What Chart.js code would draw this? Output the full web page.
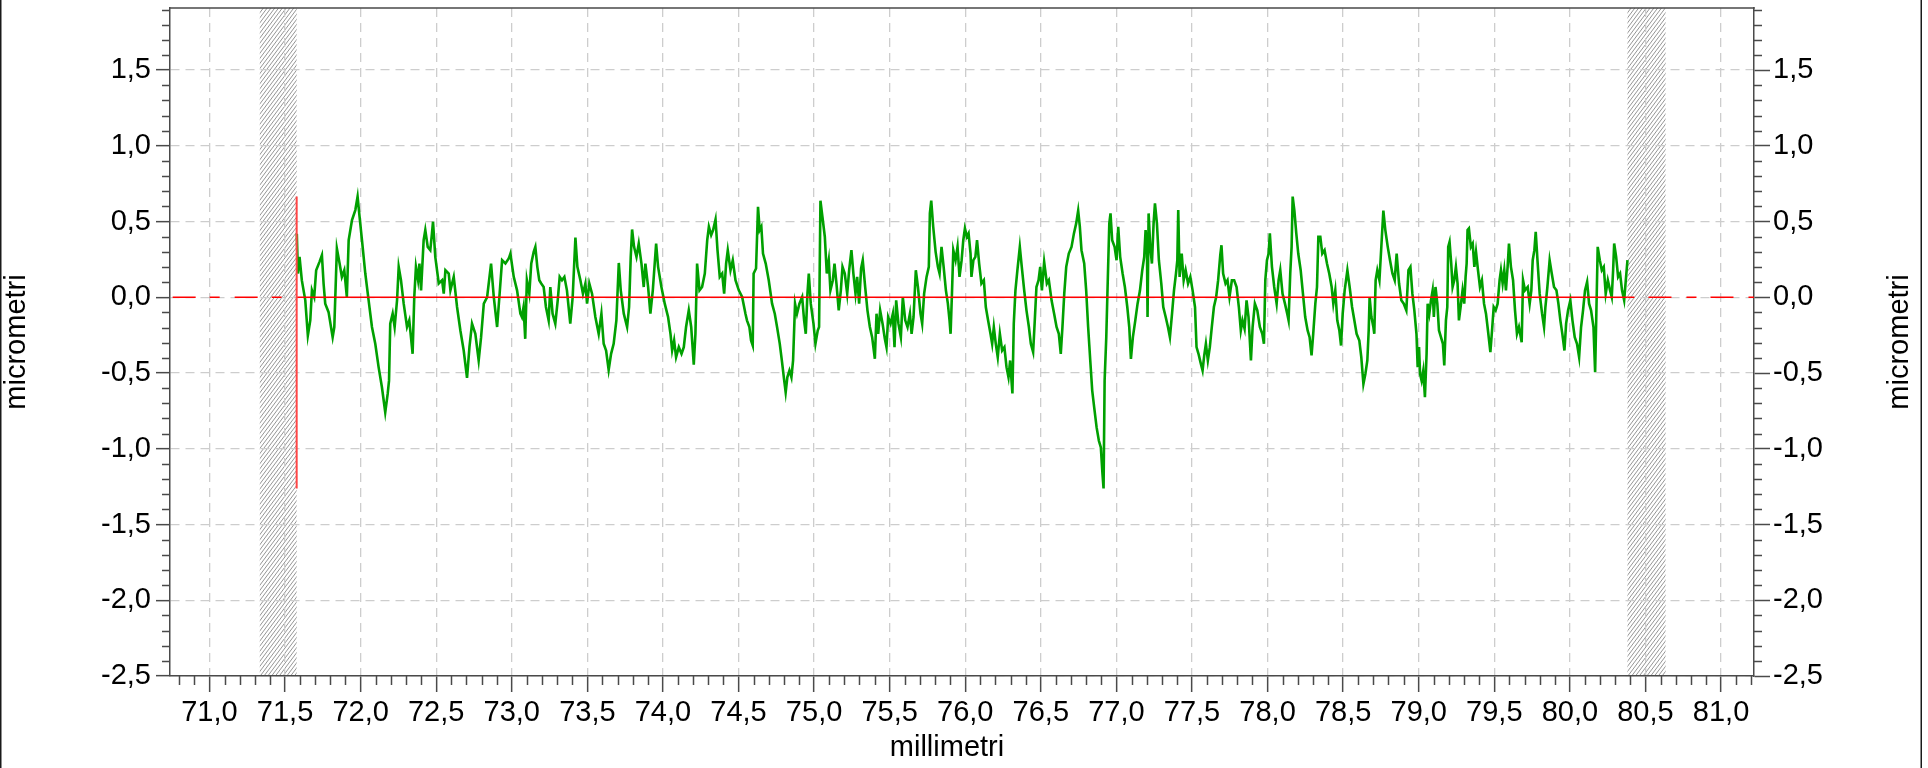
<!DOCTYPE html>
<html>
<head>
<meta charset="utf-8">
<title>Profilo rugosità</title>
<script src="https://cdn.jsdelivr.net/npm/chart.js@4.4.1/dist/chart.umd.min.js"></script>
<style>
  html, body { margin: 0; padding: 0; background: #fff; }
  #wrap { width: 1928px; height: 768px; }
</style>
</head>
<body>
<div id="wrap"><canvas id="profileChart" width="1928" height="768"></canvas></div>
<script>
"use strict";

/* ── Assi: limiti e tacche principali ── */
const xRange = [70.739, 81.218];
const yRange = [-2.5, 1.91];
const xTickValues = [71.0, 71.5, 72.0, 72.5, 73.0, 73.5, 74.0, 74.5, 75.0, 75.5,
  76.0, 76.5, 77.0, 77.5, 78.0, 78.5, 79.0, 79.5, 80.0, 80.5, 81.0];
const yTickValues = [-2.5, -2.0, -1.5, -1.0, -0.5, 0.0, 0.5, 1.0, 1.5];

/* ── Zone escluse (tratteggiate) e tratto di valutazione ── */
const cutoffBands = [[71.333, 71.577], [80.381, 80.633]];
const evalStart = 71.577;
const evalEnd = 80.381;
const meanLevel = 0.0;
const peakUm = 0.665;
const valleyUm = -1.262;

/* ── Profilo misurato: posizione (mm) e quota (µm) ── */
const posMm = [
  71.578,71.585,71.596,71.611,71.634,71.651,71.667,71.678,71.693,71.706,
  71.728,71.744,71.755,71.766,71.788,71.815,71.826,71.834,71.843,71.861,
  71.876,71.892,71.909,71.921,71.943,71.965,71.980,71.993,72.009,72.031,
  72.053,72.075,72.097,72.119,72.141,72.163,72.179,72.188,72.196,72.212,
  72.225,72.241,72.252,72.267,72.285,72.307,72.322,72.344,72.355,72.366,
  72.380,72.389,72.400,72.417,72.428,72.444,72.461,72.472,72.479,72.494,
  72.517,72.539,72.550,72.561,72.583,72.594,72.616,72.638,72.660,72.682,
  72.704,72.720,72.737,72.759,72.781,72.797,72.815,72.837,72.863,72.881,
  72.903,72.918,72.936,72.958,72.980,72.991,73.013,73.035,73.057,
  73.067,73.078,73.089,73.100,73.116,73.129,73.145,73.156,73.169,73.182,
  73.195,73.211,73.226,73.244,73.255,73.270,73.288,73.304,73.317,73.332,
  73.348,73.365,73.376,73.387,73.403,73.421,73.434,73.454,73.471,73.487,
  73.498,73.513,73.531,73.553,73.575,73.593,73.608,73.624,73.641,73.657,
  73.674,73.692,73.708,73.721,73.741,73.763,73.776,73.787,73.796,73.809,
  73.825,73.840,73.858,73.873,73.884,73.902,73.917,73.933,73.955,73.968,
  73.990,74.012,74.034,74.050,74.061,74.074,74.087,74.105,74.123,74.138,
  74.153,74.171,74.187,74.204,74.215,74.226,74.242,74.259,74.277,74.293,
  74.304,74.319,74.332,74.348,74.361,74.376,74.392,74.405,74.418,74.429,
  74.447,74.462,74.480,74.502,74.524,74.546,
  74.556,74.572,74.583,74.594,74.600,74.616,74.629,74.640,74.651,74.662,
  74.680,74.700,74.722,74.740,74.755,74.773,74.788,74.801,74.812,74.823,
  74.837,74.850,74.861,74.874,74.887,74.903,74.921,74.934,74.945,74.956,
  74.965,74.978,74.996,75.009,75.024,75.033,75.042,75.055,75.071,75.084,
  75.097,75.108,75.124,75.135,75.148,75.163,75.177,75.188,75.203,75.219,
  75.232,75.247,75.260,75.274,75.285,75.298,75.311,75.322,75.338,75.353,
  75.369,75.384,75.402,75.413,75.424,75.437,75.453,75.468,75.479,75.490,
  75.506,75.521,75.532,75.543,75.558,75.574,75.587,75.603,75.618,75.634,
  75.645,75.658,75.673,75.687,75.704,75.715,75.728,75.744,75.759,75.766,
  75.775,75.788,75.804,75.819,75.830,75.843,75.857,75.872,75.885,75.896,
  75.903,75.912,75.921,75.936,75.949,75.962,75.976,75.987,75.998,76.011,
  76.022,76.035,
  76.041,76.054,76.067,76.078,76.092,76.107,76.123,76.136,76.151,76.167,
  76.178,76.189,76.202,76.215,76.229,76.244,76.259,76.273,76.286,76.297,
  76.306,76.312,76.321,76.332,76.345,76.361,76.374,76.390,76.405,76.421,
  76.434,76.449,76.460,76.471,76.485,76.496,76.507,76.522,76.540,76.553,
  76.571,76.588,76.604,76.619,76.632,76.643,76.655,76.668,76.685,76.703,
  76.719,76.734,76.747,76.758,76.769,76.787,76.800,76.813,76.827,76.840,
  76.853,76.869,76.884,76.897,76.908,76.915,76.922,76.933,76.944,76.953,
  76.961,76.972,76.988,77.001,77.012,77.025,77.041,77.056,77.072,77.085,
  77.096,77.109,77.125,77.140,77.156,77.171,77.184,77.193,77.202,77.206,
  77.213,77.224,77.235,77.246,77.255,77.268,77.281,77.297,77.310,77.326,
  77.341,77.354,77.368,77.381,77.394,77.403,77.409,77.418,77.432,77.445,
  77.458,77.474,77.489,77.504,77.520,
  77.530,77.543,77.556,77.570,77.581,77.592,77.605,77.618,77.631,77.645,
  77.660,77.673,77.687,77.695,77.706,77.722,77.735,77.748,77.764,77.779,
  77.795,77.810,77.823,77.834,77.848,77.861,77.874,77.890,77.901,77.916,
  77.932,77.949,77.965,77.976,77.985,77.996,78.007,78.015,78.029,78.044,
  78.060,78.073,78.084,78.099,78.115,78.130,78.139,78.150,78.159,78.166,
  78.177,78.190,78.203,78.219,78.234,78.249,78.265,78.278,78.291,78.302,
  78.316,78.327,78.336,78.349,78.362,78.377,78.393,78.408,78.424,78.435,
  78.448,78.461,78.475,78.486,78.497,78.510,78.528,78.543,78.559,78.574,
  78.589,78.607,78.620,78.634,78.647,78.660,78.669,78.675,78.687,78.700,
  78.706,78.715,78.726,78.740,78.755,78.766,78.779,78.795,78.810,78.826,
  78.841,78.854,78.870,78.885,78.901,78.918,78.932,78.945,78.958,78.971,
  78.985,78.993,79.002,79.009,
  79.019,79.030,79.041,79.052,79.059,79.070,79.081,79.092,79.100,79.111,
  79.123,79.134,79.147,79.160,79.169,79.180,79.189,79.195,79.204,79.215,
  79.224,79.235,79.246,79.257,79.266,79.277,79.290,79.301,79.310,79.317,
  79.323,79.332,79.345,79.357,79.368,79.379,79.392,79.405,79.418,79.432,
  79.445,79.458,79.474,79.485,79.496,79.509,79.522,79.535,79.544,79.555,
  79.566,79.577,79.588,79.597,79.610,79.624,79.637,79.650,79.663,79.681,
  79.690,79.703,79.721,79.734,79.745,79.754,79.765,79.774,79.787,79.800,
  79.816,79.829,79.838,79.851,79.866,79.880,79.895,79.911,79.924,79.937,
  79.950,79.964,79.975,79.988,80.003,80.017,80.032,80.047,80.061,80.074,
  80.087,80.100,80.114,80.127,80.140,80.156,80.167,80.175,80.184,80.198,
  80.211,80.224,80.237,80.251,80.266,80.277,80.286,80.293,80.306,80.319,
  80.332,80.345,80.359,80.370,80.381
];
const heightUm = [
  0.42,0.157,0.267,0.113,-0.02,-0.252,-0.152,0.046,0.002,0.179,
  0.234,0.278,0.091,-0.042,-0.098,-0.263,-0.196,0.046,0.322,0.223,
  0.135,0.179,0.002,0.377,0.51,0.576,0.665,0.532,0.377,0.157,
  -0.02,-0.196,-0.307,-0.461,-0.594,-0.759,-0.638,-0.55,-0.174,-0.108,
  -0.196,-0.02,0.201,0.113,-0.042,-0.196,-0.152,-0.373,0.002,0.201,
  0.113,0.223,0.046,0.377,0.444,0.333,0.311,0.422,0.499,0.267,
  0.091,0.113,0.024,0.179,0.157,0.046,0.135,-0.064,-0.219,-0.351,
  -0.532,-0.329,-0.174,-0.241,-0.417,-0.263,-0.042,0.002,0.223,0.002,
  -0.196,0.002,0.245,0.223,0.256,0.289,0.135,0.046,-0.108,
  -0.13,-0.064,-0.274,0.113,0.024,0.223,0.3,0.333,0.201,0.113,
  0.091,0.068,-0.064,-0.152,0.068,-0.108,-0.174,-0.02,0.135,0.113,
  0.135,0.046,-0.064,-0.174,0.002,0.395,0.201,0.113,0.024,0.091,
  -0.042,0.091,0.024,-0.13,-0.241,-0.108,-0.307,-0.351,-0.479,-0.373,
  -0.307,-0.152,0.227,0.046,-0.108,-0.196,-0.064,0.267,0.448,0.333,
  0.267,0.355,0.223,0.068,0.223,0.068,-0.108,0.046,0.355,0.201,
  0.068,-0.042,-0.13,-0.241,-0.351,-0.285,-0.395,-0.329,-0.373,-0.329,
  -0.196,-0.086,-0.196,-0.444,-0.241,0.223,0.046,0.068,0.157,0.377,
  0.466,0.411,0.444,0.514,0.311,0.135,0.157,0.024,0.223,0.311,
  0.179,0.245,0.113,0.046,0.002,-0.108,
  -0.152,-0.196,-0.285,-0.318,0.157,0.19,0.598,0.444,0.466,0.289,
  0.223,0.113,-0.042,-0.108,-0.196,-0.307,-0.428,-0.539,-0.627,-0.528,
  -0.483,-0.528,-0.417,-0.042,-0.108,-0.042,0.002,-0.152,-0.241,0.024,
  0.157,-0.042,-0.174,-0.307,-0.219,-0.196,0.638,0.532,0.4,0.157,
  0.245,0.046,0.113,0.223,0.091,-0.086,0.046,0.201,0.157,0.024,
  0.179,0.311,0.157,0.024,0.135,-0.042,0.19,0.245,0.068,-0.086,
  -0.196,-0.263,-0.406,-0.108,-0.241,-0.086,-0.174,-0.274,-0.329,-0.13,
  -0.174,-0.108,-0.329,-0.02,-0.174,-0.263,0.002,-0.152,-0.196,-0.108,
  -0.241,-0.13,0.179,0.068,-0.108,-0.174,0.024,0.135,0.201,0.554,
  0.638,0.466,0.3,0.201,0.157,0.333,0.201,0.046,-0.042,-0.152,
  -0.241,0.024,0.311,0.245,0.333,0.135,0.245,0.377,0.455,0.4,
  0.422,0.289,
  0.135,0.245,0.267,0.377,0.223,0.091,0.113,-0.064,-0.152,-0.241,
  -0.307,-0.196,-0.307,-0.395,-0.241,-0.351,-0.329,-0.461,-0.528,-0.417,
  -0.55,-0.634,-0.174,0.046,0.179,0.333,0.201,0.046,-0.086,-0.196,
  -0.307,-0.362,-0.152,0.068,0.113,0.201,0.046,0.234,0.091,0.113,
  -0.02,-0.108,-0.196,-0.241,-0.373,-0.196,0.024,0.201,0.289,0.333,
  0.422,0.488,0.572,0.466,0.311,0.223,0.046,-0.196,-0.417,-0.616,
  -0.726,-0.859,-0.947,-0.991,-1.168,-1.262,-0.55,-0.263,0.157,0.488,
  0.554,0.377,0.333,0.245,0.466,0.267,0.157,0.068,-0.064,-0.196,
  -0.406,-0.263,-0.152,-0.042,0.046,0.179,0.267,0.444,0.333,-0.13,
  0.554,0.333,0.223,0.488,0.62,0.488,0.245,0.091,-0.064,-0.13,
  -0.196,-0.263,-0.108,0.046,0.157,0.245,0.576,0.135,0.289,0.113,
  0.179,0.091,0.135,0.046,-0.064,
  -0.329,-0.373,-0.428,-0.483,-0.384,-0.307,-0.417,-0.329,-0.196,-0.064,
  0.002,0.113,0.278,0.344,0.157,0.091,0.113,0.002,0.113,0.113,
  0.068,-0.064,-0.219,-0.152,-0.208,-0.02,-0.13,-0.417,-0.196,-0.042,
  -0.086,-0.196,-0.241,-0.307,0.113,0.245,0.289,0.422,0.201,0.068,
  -0.042,0.113,0.179,0.024,-0.042,-0.108,-0.152,0.157,0.333,0.665,
  0.576,0.422,0.289,0.179,0.024,-0.13,-0.219,-0.263,-0.384,-0.241,
  -0.042,0.068,0.4,0.4,0.289,0.311,0.223,0.157,0.068,-0.042,
  0.046,-0.152,-0.219,-0.318,-0.108,0.046,0.179,0.068,-0.064,-0.152,
  -0.241,-0.285,-0.395,-0.572,-0.506,-0.417,-0.219,0.002,-0.13,-0.196,
  -0.241,0.113,0.179,0.113,0.377,0.572,0.444,0.333,0.245,0.157,
  0.113,0.289,0.091,-0.02,-0.042,-0.086,0.179,0.201,0.024,-0.086,
  -0.241,-0.461,-0.329,-0.506,
  -0.55,-0.483,-0.66,-0.373,-0.042,-0.108,-0.02,0.046,-0.13,0.068,
  -0.042,-0.219,-0.263,-0.307,-0.45,-0.152,-0.064,0.333,0.366,0.223,
  0.068,0.113,0.201,0.091,-0.152,-0.064,0.046,-0.042,0.135,0.223,
  0.444,0.455,0.333,0.355,0.201,0.3,0.179,0.068,0.113,-0.042,
  -0.108,-0.219,-0.362,-0.219,-0.064,-0.086,-0.042,0.113,0.179,0.091,
  0.179,0.046,0.201,0.355,0.201,0.113,-0.086,-0.241,-0.196,-0.296,
  0.113,0.046,0.068,-0.042,0.046,0.245,0.311,0.433,0.223,0.024,
  -0.108,-0.196,-0.064,0.068,0.245,0.157,0.068,0.046,-0.042,-0.152,
  -0.241,-0.351,-0.174,-0.086,-0.02,-0.152,-0.263,-0.307,-0.395,-0.196,
  -0.086,0.046,0.102,-0.042,-0.086,-0.196,-0.494,-0.108,0.333,0.245,
  0.179,0.201,0.024,0.113,0.046,0.002,0.179,0.355,0.267,0.135,
  0.157,0.046,-0.02,0.113,0.245
];

/* ── Stile ── */
const FONT_FAMILY = "'Liberation Sans', Arial, Helvetica, sans-serif";
const FONT_SIZE = 29;
const AXIS_COLOR = "#4a4a4a";
const GRID_COLOR = "#cdcdcd";
const MEAN_DASH = [10, 14, 23, 15];

const fmtComma = (v) => Number(v).toFixed(1).replace(".", ",");
const setTicks = (vals) => (scale) => {
  scale.ticks = vals.map((v) => ({ value: v }));
};
// box degli assi fissi, niente margine extra per le mezze etichette
const fixWidth = (w) => (s) => {
  s.width = w;
  s.paddingTop = 0;
  s.paddingBottom = 0;
};
const fixHeight = (h) => (s) => {
  s.height = h;
  s.paddingLeft = 0;
  s.paddingRight = 0;
};

const profilePts = posMm.map((x, i) => ({ x: x, y: heightUm[i] }));

/* ── Plugin: zone tratteggiate sotto la griglia ── */
const hatchPlugin = {
  id: "hatchBands",
  beforeDraw(chart) {
    const { ctx, chartArea: a, scales } = chart;
    cutoffBands.forEach(([x0, x1]) => {
      const p0 = scales.x.getPixelForValue(x0);
      const p1 = scales.x.getPixelForValue(x1);
      const h = a.bottom - a.top;
      ctx.save();
      ctx.beginPath();
      ctx.rect(p0, a.top, p1 - p0, h);
      ctx.clip();
      ctx.fillStyle = "#ffffff";
      ctx.fillRect(p0, a.top, p1 - p0, h);
      ctx.strokeStyle = "#7a7a7a";
      ctx.lineWidth = 0.8;
      ctx.beginPath();
      const slope = 0.75;
      for (let u = p0 - h * slope - 4; u < p1 + 4; u += 3.8) {
        ctx.moveTo(u, a.bottom);
        ctx.lineTo(u + h * slope, a.top);
      }
      ctx.stroke();
      ctx.restore();
    });
  },
};

/* ── Plugin: tacche secondarie, cornice, titoli ── */
const framePlugin = {
  id: "frameAndMinor",
  afterDraw(chart) {
    const { ctx, chartArea: a, scales } = chart;
    ctx.save();
    ctx.strokeStyle = AXIS_COLOR;
    ctx.lineWidth = 1.5;
    ctx.beginPath();
    // bordo superiore dell'area
    ctx.moveTo(a.left - 0.75, a.top);
    ctx.lineTo(a.right + 0.75, a.top);
    // tacche secondarie x ogni 0,1
    const sx = scales.x;
    for (let k = Math.ceil(sx.min * 10); k <= Math.floor(sx.max * 10); k++) {
      if (k % 5 === 0) continue;
      const px = Math.round(sx.getPixelForValue(k / 10)) + 0.5;
      ctx.moveTo(px, a.bottom);
      ctx.lineTo(px, a.bottom + 9);
    }
    // tacche secondarie y ogni 0,1, su entrambi i lati
    const sy = scales.y;
    for (let k = Math.ceil(sy.min * 10); k <= Math.floor(sy.max * 10); k++) {
      if (k % 5 === 0) continue;
      const py = Math.round(sy.getPixelForValue(k / 10)) + 0.5;
      ctx.moveTo(a.left, py);
      ctx.lineTo(a.left - 8, py);
      ctx.moveTo(a.right, py);
      ctx.lineTo(a.right + 8, py);
    }
    ctx.stroke();

    ctx.fillStyle = "#000";
    ctx.font = FONT_SIZE + "px " + FONT_FAMILY;
    ctx.textAlign = "center";
    ctx.textBaseline = "middle";
    // titolo asse x
    ctx.fillText("millimetri", 947, chart.height - 20);
    // titolo asse destro, letto dal basso come quello sinistro
    ctx.translate(chart.width - 28, (a.top + a.bottom) / 2);
    ctx.rotate(-Math.PI / 2);
    ctx.fillText("micrometri", 0, 0);
    ctx.restore();

    // cornice esterna dell'immagine
    ctx.save();
    ctx.fillStyle = "#1a1a1a";
    ctx.fillRect(0, 0, 1.5, chart.height);
    ctx.fillRect(chart.width - 7.5, 0, 1.5, chart.height);
    ctx.restore();
  },
};

const tickFont = { family: FONT_FAMILY, size: FONT_SIZE };

new Chart(document.getElementById("profileChart"), {
  type: "line",
  data: {
    datasets: [
      {
        label: "limite",
        data: [{ x: evalStart, y: peakUm }, { x: evalStart, y: valleyUm }],
        borderColor: "#ff4646",
        borderWidth: 2,
        order: 0,
      },
      {
        label: "linea media",
        data: [{ x: evalStart, y: meanLevel }, { x: evalEnd, y: meanLevel }],
        borderColor: "#ff0000",
        borderWidth: 1.5,
        order: 0,
      },
      {
        label: "linea media (sx)",
        data: [{ x: evalStart, y: meanLevel }, { x: xRange[0], y: meanLevel }],
        borderColor: "#ff0000",
        borderWidth: 1.5,
        borderDash: MEAN_DASH,
        borderDashOffset: 47,
        order: 0,
      },
      {
        label: "linea media (dx)",
        data: [{ x: evalEnd, y: meanLevel }, { x: xRange[1], y: meanLevel }],
        borderColor: "#ff0000",
        borderWidth: 1.5,
        borderDash: MEAN_DASH,
        borderDashOffset: 3,
        order: 0,
      },
      {
        label: "profilo",
        data: profilePts,
        borderColor: "#00a000",
        borderWidth: 2.6,
        order: 1,
      },
    ],
  },
  options: {
    responsive: false,
    animation: false,
    devicePixelRatio: 1,
    layout: { padding: { top: 8, left: 0, right: 0, bottom: 0 } },
    elements: {
      point: { radius: 0, hoverRadius: 0 },
      line: { tension: 0, fill: false },
    },
    plugins: {
      legend: { display: false },
      tooltip: { enabled: false },
    },
    scales: {
      x: {
        type: "linear",
        position: "bottom",
        min: xRange[0],
        max: xRange[1],
        afterBuildTicks: setTicks(xTickValues),
        afterFit: fixHeight(92),
        grid: {
          color: GRID_COLOR,
          lineWidth: 1.3,
          tickLength: 16,
          tickColor: AXIS_COLOR,
          tickWidth: 1.5,
          tickBorderDash: [],
        },
        border: { display: true, color: AXIS_COLOR, width: 1.5, dash: [9, 6] },
        ticks: {
          callback: fmtComma,
          font: tickFont,
          color: "#000",
          padding: 4,
          maxRotation: 0,
          autoSkip: false,
        },
      },
      y: {
        type: "linear",
        position: "left",
        min: yRange[0],
        max: yRange[1],
        afterBuildTicks: setTicks(yTickValues),
        afterFit: fixWidth(170),
        grid: {
          color: GRID_COLOR,
          lineWidth: 1.3,
          tickLength: 14,
          tickColor: AXIS_COLOR,
          tickWidth: 1.5,
          tickBorderDash: [],
        },
        border: { display: true, color: AXIS_COLOR, width: 1.5, dash: [9, 6] },
        ticks: {
          callback: fmtComma,
          font: tickFont,
          color: "#000",
          padding: 5,
          autoSkip: false,
        },
        title: {
          display: true,
          text: "micrometri",
          font: tickFont,
          color: "#000",
          padding: { top: 0, bottom: 0 },
        },
      },
      y2: {
        type: "linear",
        position: "right",
        min: yRange[0],
        max: yRange[1],
        afterBuildTicks: setTicks(yTickValues),
        afterFit: fixWidth(174),
        grid: {
          drawOnChartArea: false,
          tickLength: 16,
          tickColor: AXIS_COLOR,
          tickWidth: 1.5,
        },
        border: { display: true, color: AXIS_COLOR, width: 1.5 },
        ticks: {
          callback: fmtComma,
          font: tickFont,
          color: "#000",
          padding: 3,
          autoSkip: false,
        },
      },
    },
  },
  plugins: [hatchPlugin, framePlugin],
});
</script>
</body>
</html>
